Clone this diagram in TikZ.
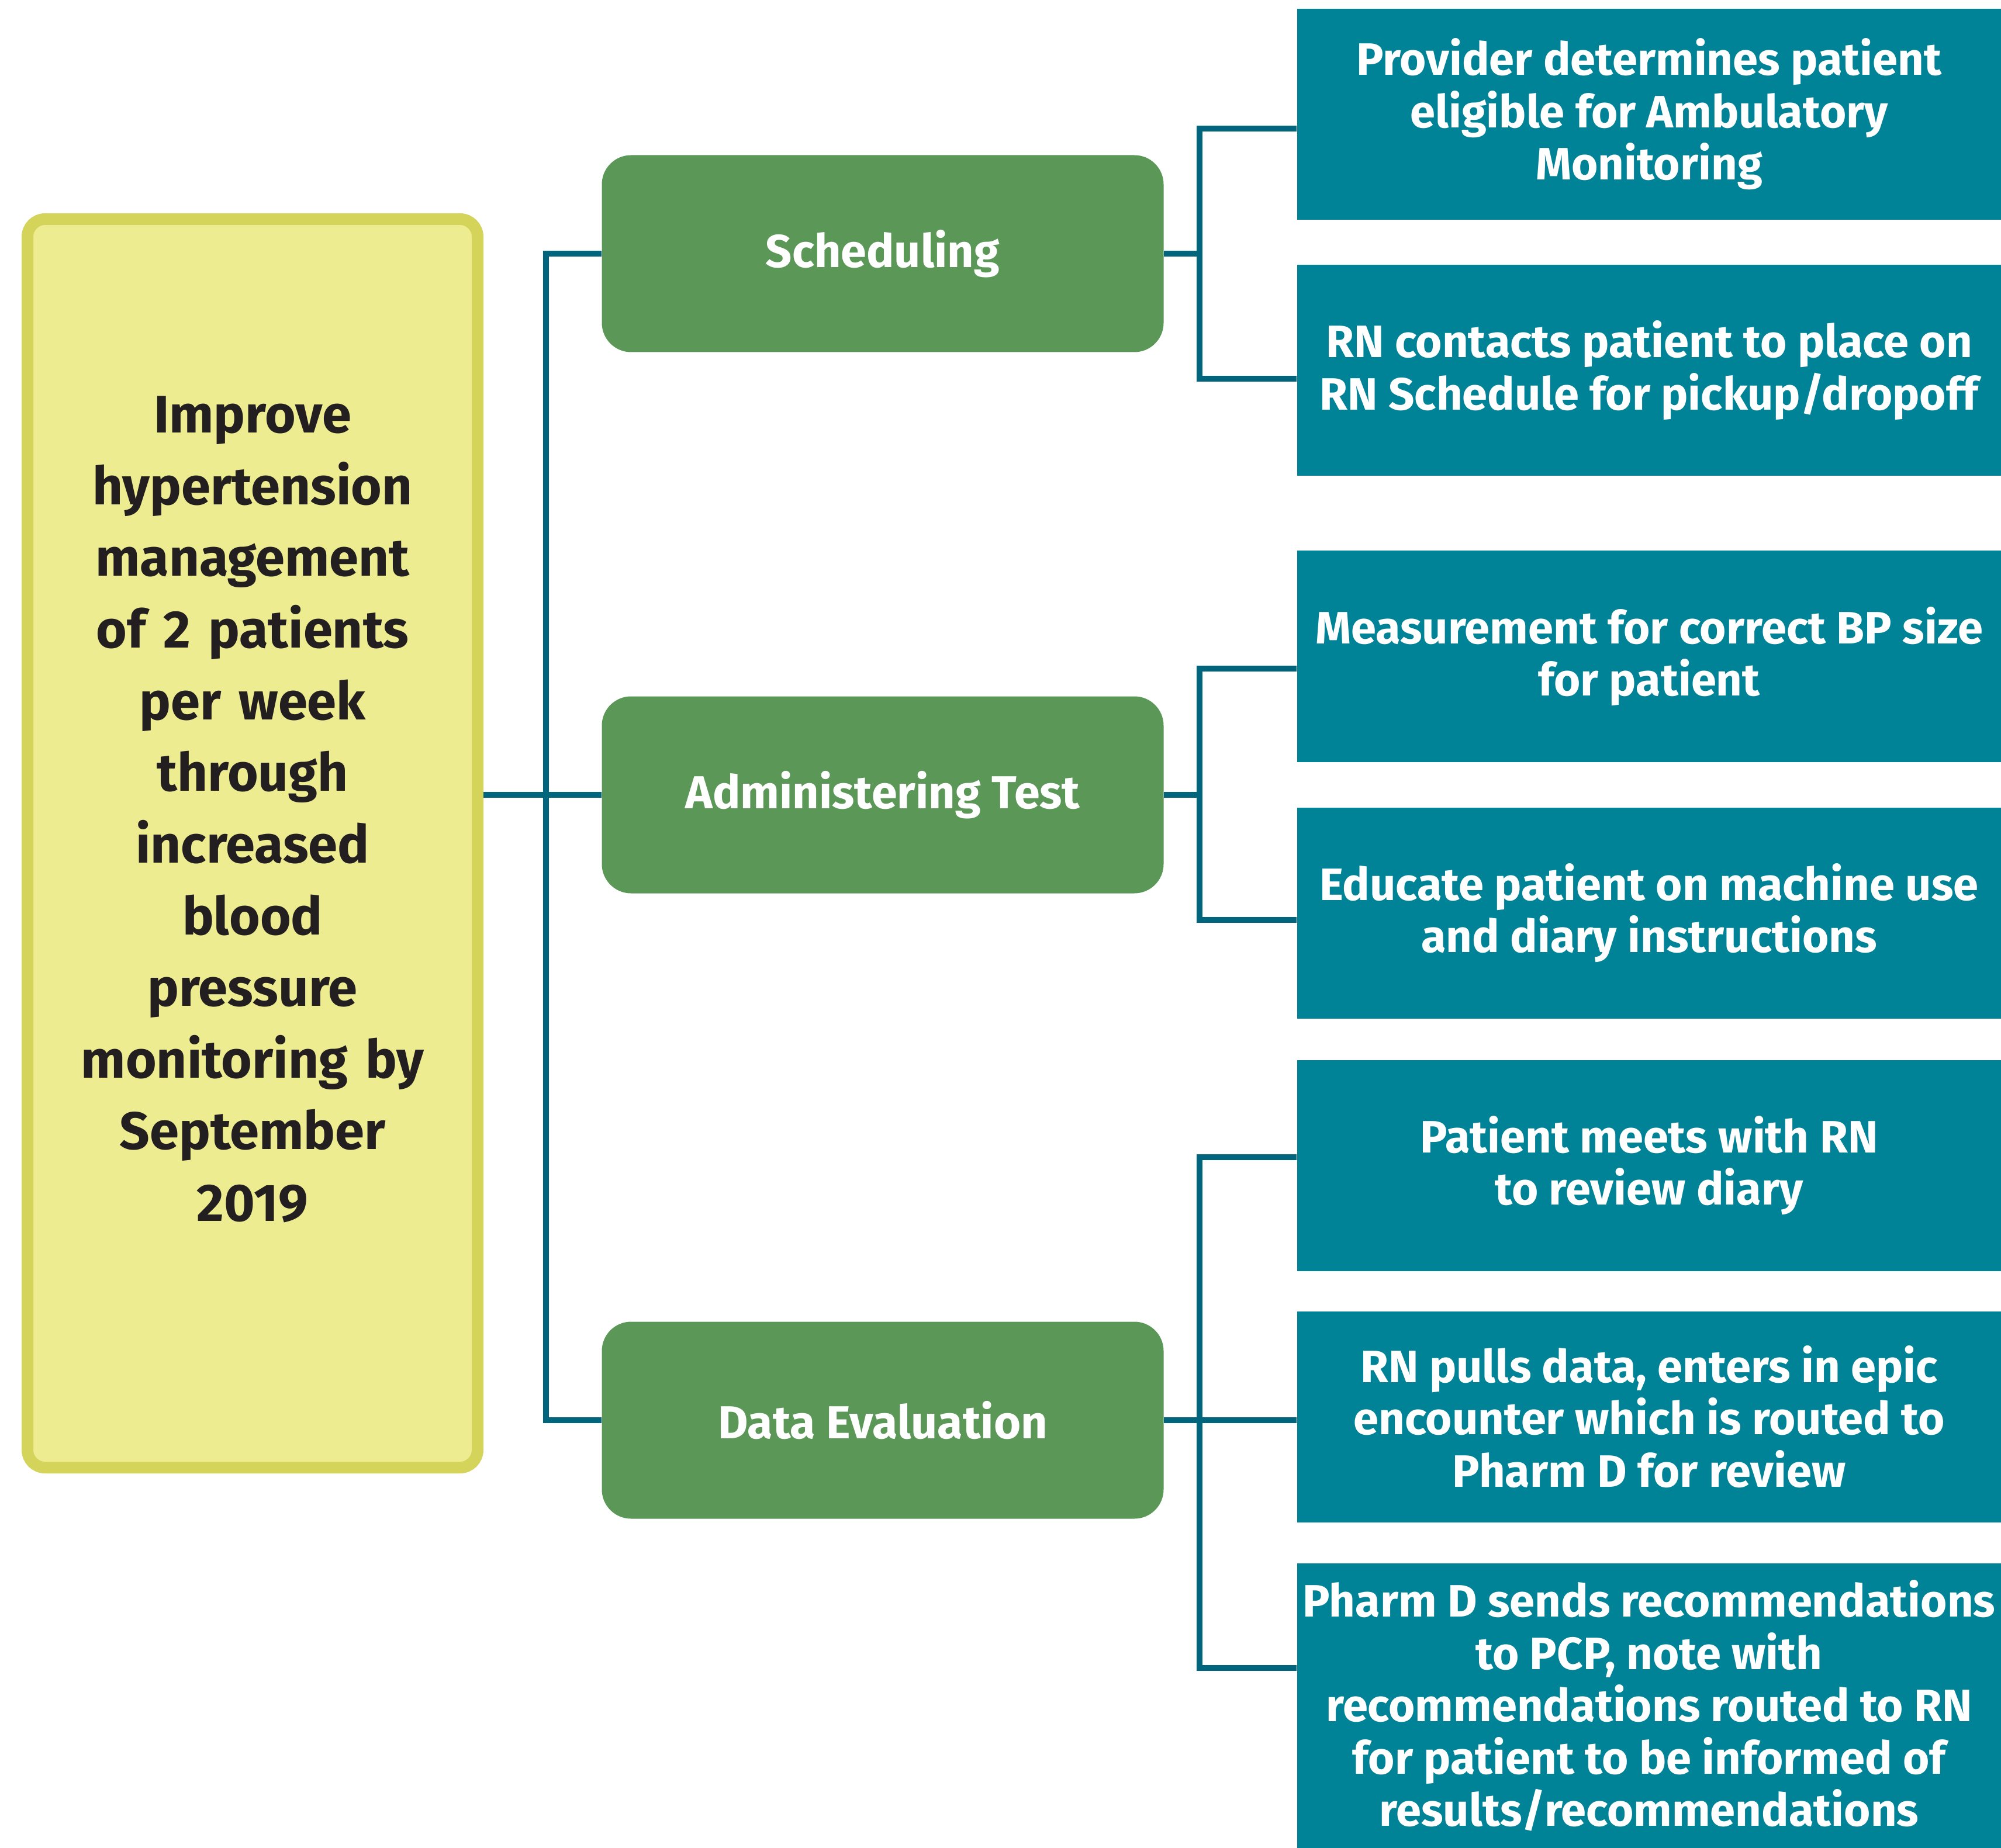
\documentclass[tikz,border=0pt]{standalone}
\usepackage{fontspec}
\setmainfont{Fira Sans}
\usepackage{tikz}
\usetikzlibrary{positioning, calc}
\definecolor{goalfill}{RGB}{238,236,145}
\definecolor{goaledge}{RGB}{212,211,90}
\definecolor{phasegreen}{RGB}{91,151,87}
\definecolor{stepteal}{RGB}{0,130,151}
\definecolor{linkteal}{RGB}{0,101,125}
\definecolor{inkdark}{RGB}{35,31,32}
\tikzset{
  goalbox/.style={
    rectangle, rounded corners=0.3cm,
    minimum width=7.7cm, minimum height=21.36cm,
    draw=goaledge, line width=0.2cm, fill=goalfill
  },
  goaltext/.style={
    text width=7.4cm, align=center, text=inkdark,
    font=\fontsize{25.7}{34.9}\selectfont\bfseries
  },
  phasebox/.style={
    rectangle, rounded corners=0.5cm,
    minimum width=9.61cm, minimum height=3.37cm,
    fill=#1, text=white, align=center,
    font=\fontsize{22.5}{25.5}\selectfont\bfseries
  },
  stepbox/.style={
    rectangle, minimum width=12.05cm, minimum height=3.61cm,
    fill=#1, text=white, align=center, inner sep=0pt,
    font=\fontsize{22.1}{25.5}\selectfont\bfseries
  },
  link/.style={draw=linkteal, line width=0.1cm},
}
\begin{document}
\begin{tikzpicture}
    \useasboundingbox (0,0) rectangle (34.23,-31.62);
    % goal
    \node[goalbox] (goal) at (4.32,-14.43) {};
    \node[goaltext] (goaltxt) at ([yshift=0.58cm]goal.center)
      {Improve\\hypertension\\management\\of 2 patients\\per week\\through\\increased\\blood\\pressure\\monitoring by\\September\\2019};
    % phases
    \node[phasebox=phasegreen] (sched) at (15.10,-4.34)  {Scheduling};
    \node[phasebox=phasegreen] (admin) at (15.10,-13.60) {Administering Test};
    \node[phasebox=phasegreen] (data)  at (15.10,-24.30) {Data Evaluation};
    % steps
    \node[stepbox=stepteal] (t1) at (28.21,-1.955) {Provider determines patient\\eligible for Ambulatory\\Monitoring};
    \node[stepbox=stepteal] (t2) at (28.21,-6.335) {RN contacts patient to place on\\RN Schedule for pickup/dropoff};
    \node[stepbox=stepteal] (t3) at (28.21,-11.23) {Measurement for correct BP size\\for patient};
    \node[stepbox=stepteal] (t4) at (28.21,-15.62) {Educate patient on machine use\\and diary instructions};
    \node[stepbox=stepteal] (t5) at (28.21,-19.94) {Patient meets with RN\\to review diary};
    \node[stepbox=stepteal] (t6) at (28.21,-24.24) {RN pulls data, enters in epic\\encounter which is routed to\\Pharm D for review};
    \node[stepbox=stepteal, minimum height=4.87cm] (t7) at (28.21,-29.185) {Pharm D sends recommendations\\to PCP, note with\\recommendations routed to RN\\for patient to be informed of\\results/recommendations};
    % connectors
    \coordinate (lbus) at (9.34,0);
    \coordinate (rbus) at (20.52,0);
    \draw[link] (goal.east |- admin.west) -- (admin.west);
    \draw[link] (sched.west) -| (lbus |- admin.west) |- (data.west);
    \draw[link] (sched.east) -- (sched.east -| rbus);
    \draw[link] ([yshift=-0.25cm]t1.west) -| (sched.east -| rbus) |- ([yshift=-0.145cm]t2.west);
    \draw[link] (admin.east) -- (admin.east -| rbus);
    \draw[link] ([yshift=-0.21cm]t3.west) -| (admin.east -| rbus) |- ([yshift=-0.12cm]t4.west);
    \draw[link] (data.east) -- (data.east -| t6.west);
    \draw[link] ([yshift=0.14cm]t5.west) -| (data.east -| rbus) |- ([yshift=0.65cm]t7.west);
\end{tikzpicture}
\end{document}
